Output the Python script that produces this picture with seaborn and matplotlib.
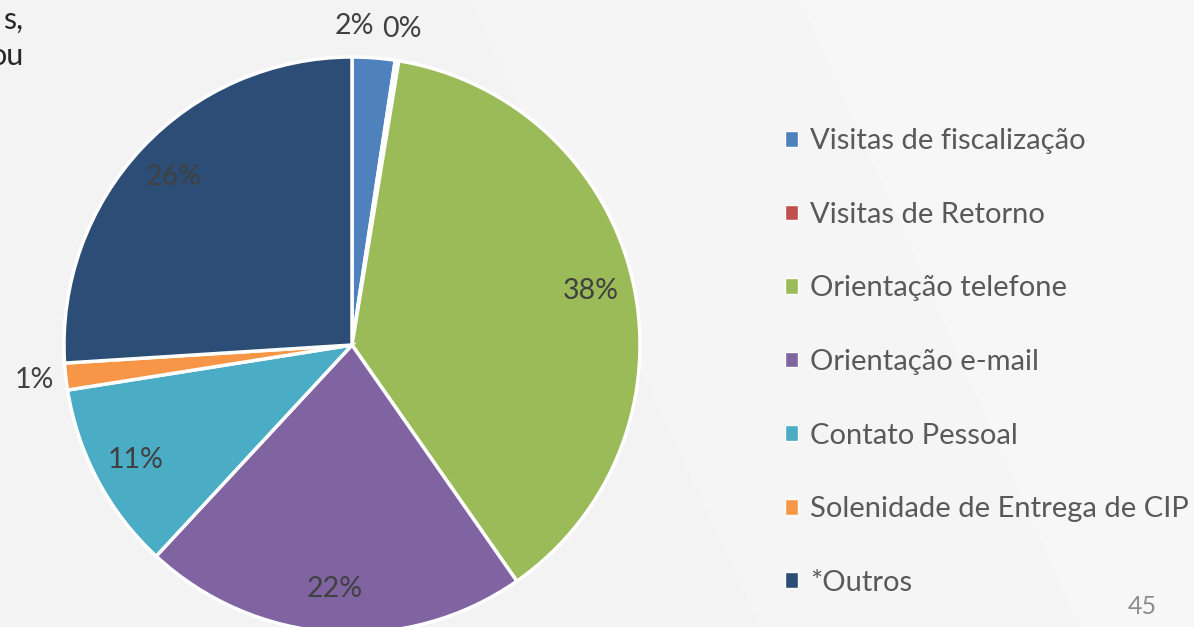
import numpy as np
import matplotlib.pyplot as plt
import matplotlib.patches as mpatches
import seaborn as sns

categories = ["Visitas de fiscalização", "Visitas de Retorno", "Orientação telefone",
              "Orientação e-mail", "Contato Pessoal", "Solenidade de Entrega de CIP", "*Outros"]
shares = [2.4, 0.2, 37.7, 21.6, 10.6, 1.5, 26.0]
pct_labels = ["2%", "0%", "38%", "22%", "11%", "1%", "26%"]
colors = ["#4F81BD", "#C0504D", "#9BBB59", "#8064A2", "#4BACC6", "#F79646", "#2C4D75"]

sns.set_theme(style="white")
plt.rcParams["font.family"] = ["Lato", "DejaVu Sans"]

W, H = 1194, 627
fig = plt.figure(figsize=(W / 100, H / 100), dpi=100)
fig.patch.set_facecolor("#F3F3F3")

def px(pts):
    return [[x / W, 1 - y / H] for x, y in pts]

# faint slide background shapes, kept behind the pie
fig.patches.append(mpatches.Polygon(px([(470, 0), (1194, 0), (1194, 627), (760, 627)]),
                                    transform=fig.transFigure, facecolor="#F5F5F5", edgecolor="none", zorder=-2))
fig.patches.append(mpatches.Polygon(px([(800, 0), (1194, 0), (1194, 627), (1080, 627)]),
                                    transform=fig.transFigure, facecolor="#F7F7F7", edgecolor="none", zorder=-1))

# pie
cx, cy, R = 352, 345, 288
ax = fig.add_axes([(cx - R) / W, 1 - (cy + R) / H, 2 * R / W, 2 * R / H])
ax.set_zorder(2)
wedges, _ = ax.pie(shares, colors=colors, startangle=90, counterclock=False, radius=1,
                   wedgeprops=dict(edgecolor="white", linewidth=2.5))
ax.set_xlim(-1, 1)
ax.set_ylim(-1, 1)
ax.axis("off")

nudge = {0: -0.075}
for i, (w, lab) in enumerate(zip(wedges, pct_labels)):
    mid = np.deg2rad((w.theta1 + w.theta2) / 2)
    r = 0.85 if shares[i] >= 5 else 1.11
    x = r * np.cos(mid) + nudge.get(i, 0)
    y = r * np.sin(mid)
    ax.text(x, y, lab, ha="center", va="center", fontsize=20.5, color="#404040", clip_on=False)

# legend
handles = [mpatches.Rectangle((0, 0), 1, 1, facecolor=c, edgecolor="white", linewidth=1) for c in colors]
fig.legend(handles, categories, loc="center left", bbox_to_anchor=(785 / W, 1 - 362 / H),
           frameon=False, fontsize=21, labelcolor="#595959", handlelength=0.45, handleheight=0.45,
           handletextpad=0.4, labelspacing=1.63, borderaxespad=0, borderpad=0)

# cut-off slide text and page number
fig.text(23 / W, 1 - 20 / H, "s,", ha="right", va="center", fontsize=22, color="#262626")
fig.text(24 / W, 1 - 56 / H, "ou", ha="right", va="center", fontsize=22, color="#262626")
fig.text(1142 / W, 1 - 607 / H, "45", ha="center", va="center", fontsize=18, color="#8C8C8C")

fig.savefig("out.png", dpi=100, facecolor=fig.get_facecolor())
